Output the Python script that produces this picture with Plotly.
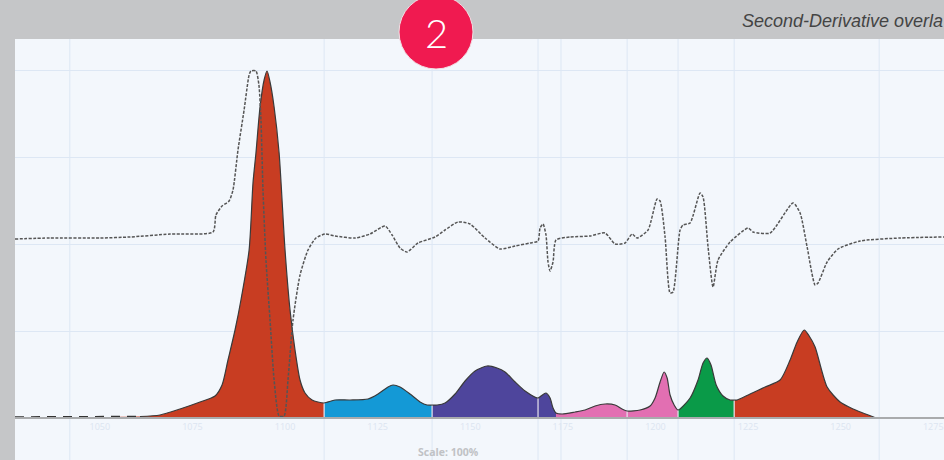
import numpy as np
import plotly.graph_objects as go

# Wavenumber (cm-1) and intensity (arbitrary units, 348 = full scale)
wavenumber = [1027.1,1050.05,1060.85,1066.25,1071.65,1077.05,1081.1,1083.0,1084.6,1086.5,1088.1,1090.3,1091.35,1092.15,1093.25,1094.35,1095.15,1095.95,1097.05,1098.4,1100.0,1101.35,1102.7,1104.05,1105.4,1107.3,1108.9,1110.55,1113.5,1117.55,1122.4,1125.1,1127.8,1129.15,1131.05,1133.75,1136.45,1138.35,1139.7,1141.05,1143.2,1145.9,1148.6,1151.3,1154.55,1157.25,1159.4,1162.1,1164.8,1168.3,1169.1,1170.45,1171.55,1172.35,1173.15,1174.8,1178.3,1181.0,1183.7,1186.4,1189.1,1191.0,1192.35,1195.85,1198.55,1199.9,1201.25,1202.35,1203.15,1203.95,1205.05,1206.1,1209.35,1211.5,1212.85,1213.95,1215.0,1216.4,1218.25,1220.15,1221.25,1222.05,1225.55,1229.6,1233.65,1236.35,1238.25,1240.15,1241.5,1243.1,1246.35,1249.85,1253.35,1259.55]
absorbance = [1,1,1.5,3,9,16,22,33,58,88,118,168,235,265,311,338,347,336,311,265,168,108,68,38,25,18,16,15,18,18,19,24,31,33,31,24,16,13,13,13,15,24,37,47,52,50,46,36,27,20,22,25,20,10,5,4,6,8,12,14,13,9,7,8,12,20,36,46,40,23,13,8,20,38,55,60,53,33,22,18,18,18,24,31,38,58,76,88,82,71,31,16,9,0]

deriv_x = [1027.1,1036.55,1050.05,1058.15,1068.95,1080.55,1081.35,1083.0,1084.9,1085.95,1087.3,1088.95,1090.3,1090.8,1092.15,1092.95,1093.5,1094.05,1094.85,1095.95,1097.05,1098.4,1099.75,1100.8,1102.15,1104.05,1106.2,1108.35,1110.8,1113.5,1118.9,1122.95,1127.0,1128.9,1131.05,1132.95,1135.9,1140.5,1143.2,1146.7,1149.95,1154.0,1158.05,1162.1,1166.15,1168.3,1168.85,1169.65,1170.45,1171.0,1171.55,1172.35,1173.15,1176.95,1182.35,1186.4,1189.1,1191.8,1193.7,1195.05,1198.0,1200.45,1201.25,1202.6,1203.95,1204.75,1206.65,1207.45,1209.35,1212.05,1212.85,1214.2,1215.55,1216.9,1220.15,1225.0,1226.35,1230.95,1237.15,1239.05,1240.95,1243.1,1243.9,1246.35,1249.3,1255.25,1266.05,1277.9]
deriv_y = [179,180,180,181,184,186,203,212,217,228,268,308,343,347,347,333,298,228,158,98,38,2,2,38,98,143,168,180,184,182,180,184,192,183,170,166,175,181,188,196,194,180,169,172,175,177,190,194,183,156,147,156,178,181,182,185,174,175,184,180,188,219,217,181,125,126,188,193,195,225,221,171,131,158,176,190,186,185,215,205,171,133,135,156,169,177,180,181]

band_edges = [1027.1,1110.55,1139.7,1173.15,1206.1,1221.25,1259.55]
band_colors = ["#c83d22","#1499d6","#4e459c","#e26fb2","#0a9a48","#c83d22"]
inner_edges = [1110.55,1139.7,1168.3,1192.35,1206.1,1221.25]

baseline_x = [1027.1,1060.85]
baseline_y = [1,1.5]

tick_values = [1050,1075,1100,1125,1150,1175,1200,1225,1250,1275]
tick_labels = ["1050","1075","1100","1125","1150","1175","1200","1225","1250","1275"]
grid_x = [1041.9,1110.55,1139.7,1168.3,1174.5,1192.35,1206.1,1221.25,1260.4]
grid_y = [87,174,261,348]

x = np.array(wavenumber)
y = np.array(absorbance)

W, H = 944, 460
L, T = 15, 39
PW, PH = W - L, H - T

fig = go.Figure()

for i, col in enumerate(band_colors):
    m = (x >= band_edges[i]) & (x <= band_edges[i + 1])
    fig.add_trace(go.Scatter(x=x[m], y=y[m], mode="lines", fill="tozeroy",
                             fillcolor=col, line=dict(color=col, width=0, shape="spline", smoothing=0.7),
                             hoverinfo="skip", showlegend=False))

for e in inner_edges:
    v = float(np.interp(e, x, y))
    fig.add_trace(go.Scatter(x=[e, e], y=[0, v], mode="lines",
                             line=dict(color="#e8e4ee", width=1.2),
                             hoverinfo="skip", showlegend=False))

m = x >= baseline_x[1]
fig.add_trace(go.Scatter(x=x[m], y=y[m], mode="lines",
                         line=dict(color="#3a3a3a", width=1.2, shape="spline", smoothing=0.7),
                         hoverinfo="skip", showlegend=False))
fig.add_trace(go.Scatter(x=baseline_x, y=baseline_y, mode="lines",
                         line=dict(color="#333333", width=1.6, dash="9px,7px"),
                         hoverinfo="skip", showlegend=False))

fig.add_trace(go.Scatter(x=deriv_x, y=deriv_y, mode="lines",
                         line=dict(color="#555555", width=1.5, dash="3px,1.5px", shape="spline", smoothing=0.6),
                         hoverinfo="skip", showlegend=False))

for g in grid_x:
    fig.add_shape(type="line", xref="x", yref="paper", x0=g, x1=g, y0=0, y1=1,
                  line=dict(color="#dde7f4", width=1), layer="below")

fig.add_shape(type="circle", xref="paper", yref="paper",
              xsizemode="pixel", ysizemode="pixel",
              xanchor=(436 - L) / PW, yanchor=(H - 32) / PH,
              x0=-37, x1=37, y0=-37, y1=37,
              fillcolor="#f01a50", line=dict(color="#f2dfe4", width=1), layer="above")

fig.add_annotation(xref="paper", yref="paper", x=(436 - L) / PW, y=(H - 33) / PH,
                   text="2", showarrow=False, xanchor="center", yanchor="middle",
                   font=dict(family="Lato", size=40, color="#ffffff", weight=300))
fig.add_annotation(xref="paper", yref="paper", x=1.0, y=(H - 21) / PH,
                   text="<i>Second-Derivative overla</i>", showarrow=False,
                   xanchor="right", yanchor="middle", align="right", borderpad=0,
                   font=dict(family="Liberation Sans", size=18, color="#444444"))
fig.add_annotation(xref="paper", yref="paper", x=(448 - L) / PW, y=0,
                   text="<b>Scale: 100%</b>", showarrow=False,
                   xanchor="center", yanchor="bottom", borderpad=0,
                   font=dict(family="Open Sans", size=10.5, color="#c0c2c5"))

fig.update_layout(
    width=W, height=H, autosize=False,
    margin=dict(l=L, r=0, t=T, b=0, autoexpand=False),
    paper_bgcolor="#c5c6c8", plot_bgcolor="#f3f7fc",
    showlegend=False,
    xaxis=dict(range=[1027.1, 1277.9], tickvals=tick_values, ticktext=tick_labels,
               showgrid=False, zeroline=False, anchor="free",
               position=(H - 418) / PH, showline=True, linecolor="#a9abad", linewidth=1.5,
               ticks="", tickfont=dict(family="Open Sans", size=9, color="#dce5f1")),
    yaxis=dict(range=[-42, 379], tickvals=grid_y, showticklabels=False,
               showgrid=True, gridcolor="#dde7f4", gridwidth=1, zeroline=False,
               ticks="", showline=False),
)

fig.write_html("out.html", config=dict(displayModeBar=False),
               post_script="document.body.style.margin='0';")
